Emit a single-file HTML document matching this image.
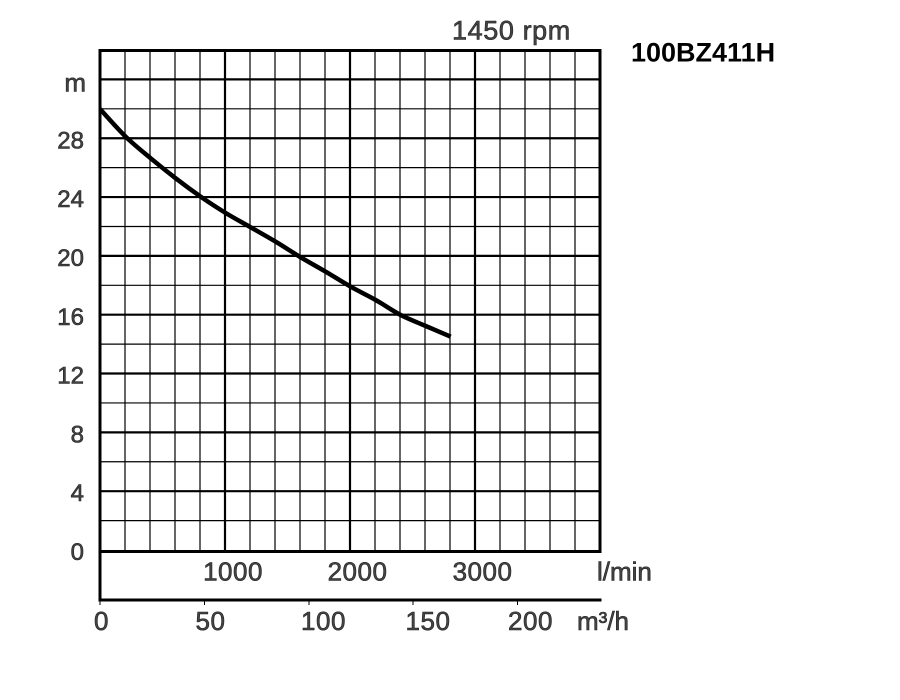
<!DOCTYPE html>
<html>
<head>
<meta charset="utf-8">
<style>
html,body{margin:0;padding:0;background:#fff;}
svg{display:block;}
text{font-family:"Liberation Sans",Arial,sans-serif;fill:#444;stroke:#222;stroke-width:0.6;}
</style>
</head>
<body>
<svg width="900" height="700" viewBox="0 0 900 700" xmlns="http://www.w3.org/2000/svg">
<rect width="900" height="700" fill="#fff"/>
<g stroke="#000" fill="none">
  <g stroke-width="1.2">
    <line x1="125" y1="50" x2="125" y2="550"/>
    <line x1="150" y1="50" x2="150" y2="550"/>
    <line x1="175" y1="50" x2="175" y2="550"/>
    <line x1="200" y1="50" x2="200" y2="550"/>
    <line x1="250" y1="50" x2="250" y2="550"/>
    <line x1="275" y1="50" x2="275" y2="550"/>
    <line x1="300" y1="50" x2="300" y2="550"/>
    <line x1="325" y1="50" x2="325" y2="550"/>
    <line x1="375" y1="50" x2="375" y2="550"/>
    <line x1="400" y1="50" x2="400" y2="550"/>
    <line x1="425" y1="50" x2="425" y2="550"/>
    <line x1="450" y1="50" x2="450" y2="550"/>
    <line x1="500" y1="50" x2="500" y2="550"/>
    <line x1="525" y1="50" x2="525" y2="550"/>
    <line x1="550" y1="50" x2="550" y2="550"/>
    <line x1="575" y1="50" x2="575" y2="550"/>
  </g>
  <g stroke-width="2.2">
    <line x1="225" y1="50" x2="225" y2="550"/>
    <line x1="350" y1="50" x2="350" y2="550"/>
    <line x1="475" y1="50" x2="475" y2="550"/>
  </g>
  <g stroke-width="1.2">
    <line x1="100" y1="520.59" x2="600" y2="520.59"/>
    <line x1="100" y1="461.76" x2="600" y2="461.76"/>
    <line x1="100" y1="402.94" x2="600" y2="402.94"/>
    <line x1="100" y1="344.12" x2="600" y2="344.12"/>
    <line x1="100" y1="285.29" x2="600" y2="285.29"/>
    <line x1="100" y1="226.47" x2="600" y2="226.47"/>
    <line x1="100" y1="167.65" x2="600" y2="167.65"/>
    <line x1="100" y1="108.82" x2="600" y2="108.82"/>
  </g>
  <g stroke-width="2.2">
    <line x1="100" y1="491.18" x2="600" y2="491.18"/>
    <line x1="100" y1="432.35" x2="600" y2="432.35"/>
    <line x1="100" y1="373.53" x2="600" y2="373.53"/>
    <line x1="100" y1="314.71" x2="600" y2="314.71"/>
    <line x1="100" y1="255.88" x2="600" y2="255.88"/>
    <line x1="100" y1="197.06" x2="600" y2="197.06"/>
    <line x1="100" y1="138.24" x2="600" y2="138.24"/>
    <line x1="100" y1="79.41" x2="600" y2="79.41"/>
  </g>
  <g stroke-width="3">
    <line x1="98.5" y1="50.5" x2="601.5" y2="50.5"/>
    <line x1="600" y1="49" x2="600" y2="552"/>
    <line x1="100" y1="49" x2="100" y2="601.5"/>
    <line x1="98.5" y1="551.5" x2="601.5" y2="551.5"/>
    <line x1="98.5" y1="600" x2="601.5" y2="600"/>
  </g>
  <g stroke-width="1">
    <line x1="100" y1="600" x2="100" y2="605"/>
    <line x1="204.5" y1="600" x2="204.5" y2="605"/>
    <line x1="309" y1="600" x2="309" y2="605"/>
    <line x1="413" y1="600" x2="413" y2="605"/>
    <line x1="517.5" y1="600" x2="517.5" y2="605"/>
  </g>
  <path stroke-width="4.5" stroke-linejoin="round" stroke-linecap="butt"
    d="M100,109 C104.3,113.6 117.25,128.5 125.7,136.7 C134.15,144.9 142.4,151.4 150.7,158.3 C159,165.2 167.4,171.9 175.7,178.3 C184,184.7 192.4,190.9 200.7,196.7 C209,202.5 217.4,207.9 225.7,213 C234,218.1 242.4,222.5 250.7,227.3 C259,232.1 267.4,236.7 275.7,241.7 C284,246.7 292.4,252.3 300.7,257.3 C309,262.3 317.4,266.8 325.7,271.7 C334,276.6 342.4,282 350.7,286.7 C359,291.4 367.4,295.3 375.7,300 C384,304.7 392.4,310.7 400.7,315 C409,319.3 417.4,322.4 425.7,326 C434,329.6 446.5,334.9 450.7,336.7"/>
</g>

<g font-size="24" text-anchor="end">
  <text x="86" y="91.5" font-size="26">m</text>
  <text x="84" y="148.3">28</text>
  <text x="84" y="207.1">24</text>
  <text x="84" y="266">20</text>
  <text x="84" y="324.8">16</text>
  <text x="84" y="383.6">12</text>
  <text x="84" y="442.4">8</text>
  <text x="84" y="501.2">4</text>
  <text x="84" y="560">0</text>
</g>

<g font-size="26" text-anchor="middle" letter-spacing="0.5">
  <text x="233" y="580.5">1000</text>
  <text x="357.5" y="580.5">2000</text>
  <text x="482.5" y="580.5">3000</text>
</g>
<text x="597" y="580.5" font-size="26">l/min</text>

<g font-size="26" text-anchor="middle" letter-spacing="0.5">
  <text x="101.5" y="630">0</text>
  <text x="210.5" y="630">50</text>
  <text x="323.5" y="630">100</text>
  <text x="428" y="630">150</text>
  <text x="530.5" y="630">200</text>
</g>
<text x="577" y="630" font-size="26">m³/h</text>

<text x="452" y="39.5" font-size="27" letter-spacing="0.6">1450 rpm</text>
<text x="631" y="61.5" font-size="27" font-weight="bold" style="fill:#000;stroke:none">100BZ411H</text>
</svg>
</body>
</html>
